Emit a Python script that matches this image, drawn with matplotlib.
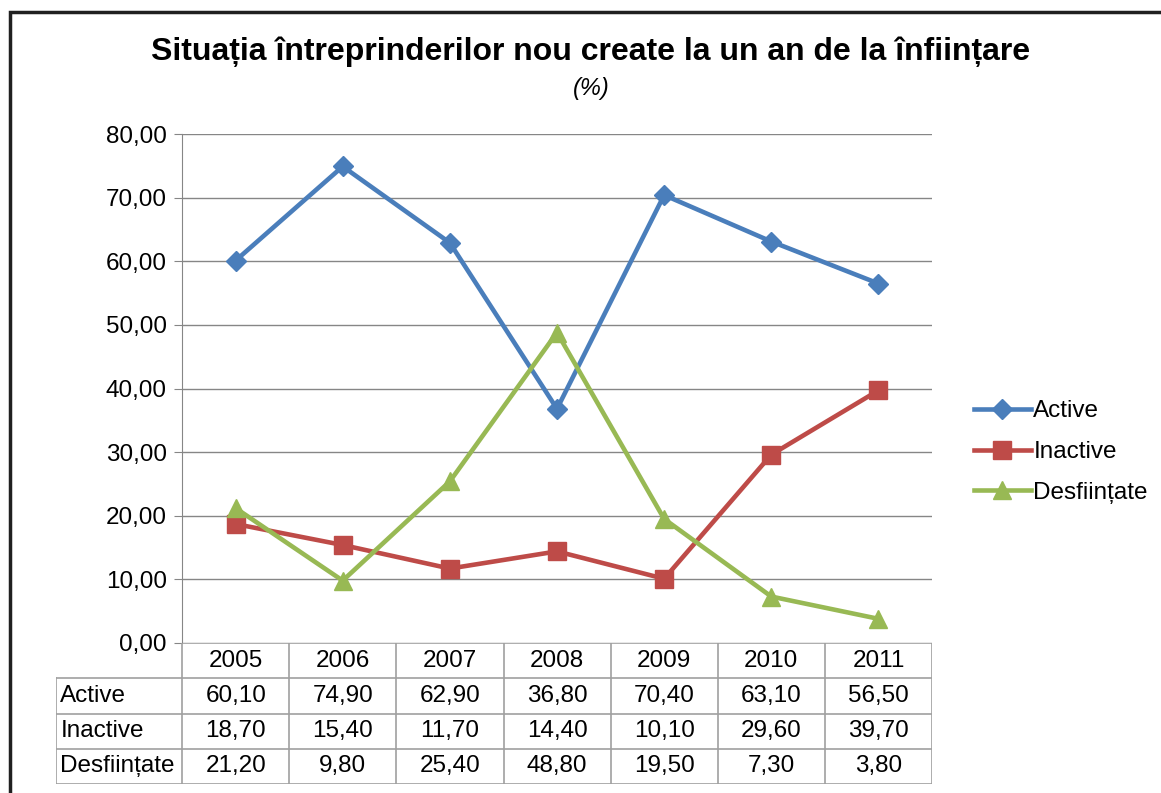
import numpy as np
import matplotlib.pyplot as plt
from matplotlib.patches import Rectangle

years = ['2005', '2006', '2007', '2008', '2009', '2010', '2011']
active = [60.10, 74.90, 62.90, 36.80, 70.40, 63.10, 56.50]
inactive = [18.70, 15.40, 11.70, 14.40, 10.10, 29.60, 39.70]
desfiintate = [21.20, 9.80, 25.40, 48.80, 19.50, 7.30, 3.80]
series_names = ['Active', 'Inactive', 'Desființate']
yticks = [0, 10, 20, 30, 40, 50, 60, 70, 80]

colors = ['#4A7EBB', '#BE4B48', '#98B954']
markers = ['D', 's', '^']
msizes = [10, 13, 13]

plt.rcParams['font.family'] = ['Liberation Sans', 'DejaVu Sans']

W, H = 1161, 793
fig = plt.figure(figsize=(W / 100, H / 100), dpi=100)

def fx(px):
    return px / W

def fy(py):
    return 1 - py / H

# frame round the chart area
fig.add_artist(Rectangle((fx(10), fy(900)), fx(1300), fy(12) - fy(900),
                         transform=fig.transFigure, fill=False,
                         edgecolor='#202020', linewidth=2.5))

ax = fig.add_axes([fx(182), fy(643), fx(932) - fx(182), fy(134) - fy(643)])
x = np.arange(len(years))
data = [active, inactive, desfiintate]
for vals, name, c, m, ms in zip(data, series_names, colors, markers, msizes):
    ax.plot(x, vals, color=c, linewidth=3.3, marker=m, markersize=ms,
            markeredgecolor=c, label=name, clip_on=False)

ax.set_xlim(-0.5, len(years) - 0.5)
ax.set_ylim(0, 80)
ax.set_yticks(yticks)
ax.set_yticklabels([('%.2f' % v).replace('.', ',') for v in yticks])
ax.tick_params(axis='y', labelsize=17.5, length=6, color='#868686', pad=5)
ax.set_xticks([])
ax.grid(axis='y', color='#868686', linewidth=1)
ax.set_axisbelow(True)
for s in ['top', 'right', 'bottom']:
    ax.spines[s].set_visible(False)
ax.spines['left'].set_color('#868686')

ax.legend(loc='center left', bbox_to_anchor=((952 - 182) / (932 - 182), (643 - 452) / (643 - 134)),
          frameon=False, fontsize=17.5, handlelength=2.35, handletextpad=0.1,
          labelspacing=0.78)

# data table under the plot
tab = fig.add_axes([fx(56), fy(784), fx(932) - fx(56), fy(643) - fy(784)])
lw = 126 / 107.0
tab.set_xlim(-lw, len(years))
tab.set_ylim(4, 0)
tab.axis('off')
gc = '#A0A0A0'
tab.plot([0, len(years)], [0, 0], color=gc, lw=1.2)
for r in [1, 2, 3, 4]:
    tab.plot([-lw, len(years)], [r, r], color=gc, lw=1.2)
for c in range(len(years) + 1):
    tab.plot([c, c], [0, 4], color=gc, lw=1.2)
tab.plot([-lw, -lw], [1, 4], color=gc, lw=1.2)

for i, yr in enumerate(years):
    tab.text(i + 0.5, 0.5, yr, ha='center', va='center', fontsize=17.5)
for r, (name, vals) in enumerate(zip(series_names, data)):
    tab.text(-lw + 0.04, r + 1.5, name, ha='left', va='center', fontsize=17.5)
    for i, v in enumerate(vals):
        tab.text(i + 0.5, r + 1.5, ('%.2f' % v).replace('.', ','),
                 ha='center', va='center', fontsize=17.5)

fig.text(fx(591), fy(52), 'Situația întreprinderilor nou create la un an de la înființare',
         ha='center', va='center', fontsize=23, fontweight='bold')
fig.text(fx(591), fy(88), '(%)', ha='center', va='center', fontsize=17, style='italic')

fig.savefig('out.png', dpi=100)
